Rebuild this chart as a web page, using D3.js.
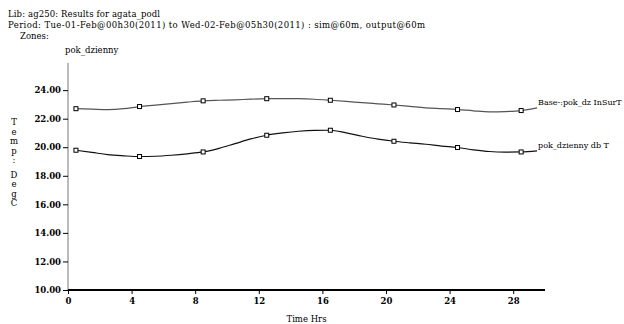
<!DOCTYPE html>
<html>
<head>
<meta charset="utf-8">
<script src="https://cdn.jsdelivr.net/npm/d3@7"></script>
<style>
  body { margin: 0; background: #fff; }
  svg { display: block; font-family: "DejaVu Serif", serif; }
  .axis text { font-family: "DejaVu Serif", serif; font-size: 8.5px; fill: #000; }
</style>
</head>
<body>
<svg id="chart" width="624" height="324"></svg>
<script>
// hourly output, half past each hour
var hours = d3.range(0.5, 30, 1);

var insurT = [22.70, 22.67, 22.64, 22.70, 22.85, 22.95, 23.06, 23.16, 23.25, 23.29,
              23.32, 23.37, 23.40, 23.41, 23.40, 23.36, 23.29, 23.21, 23.12, 23.04,
              22.96, 22.86, 22.76, 22.70, 22.64, 22.55, 22.48, 22.50, 22.57, 22.76];

var dbT = [19.79, 19.64, 19.48, 19.40, 19.35, 19.37, 19.44, 19.54, 19.67, 19.92,
           20.25, 20.58, 20.84, 21.00, 21.12, 21.18, 21.19, 21.00, 20.77, 20.57,
           20.42, 20.31, 20.21, 20.08, 19.98, 19.82, 19.70, 19.66, 19.67, 19.74];

var seriesNames = ["Base-:pok_dz InSurT", "pok_dzienny db T"];
var xTicks = [0, 4, 8, 12, 16, 20, 24, 28];
var yTicks = [10, 12, 14, 16, 18, 20, 22, 24];

var headerLines = [
  "Lib: ag250: Results for agata_podl",
  "Period: Tue-01-Feb@00h30(2011) to Wed-02-Feb@05h30(2011) : sim@60m, output@60m"
];

var svg = d3.select("#chart"),
    margin = {top: 63, right: 79, bottom: 34, left: 68},
    width = +svg.attr("width") - margin.left - margin.right,
    height = +svg.attr("height") - margin.top - margin.bottom,
    g = svg.append("g").attr("transform", "translate(" + margin.left + "," + margin.top + ")");

var x = d3.scaleLinear().domain([0, 30]).range([0, width]);
var y = d3.scaleLinear().domain([10, 25.9]).range([height, 0]);

/* header */
svg.append("text").attr("x", 8).attr("y", 17).attr("font-size", 8.5)
    .attr("textLength", 152).text(headerLines[0]);
svg.append("text").attr("x", 8).attr("y", 28).attr("font-size", 8.5)
    .attr("textLength", 417).text(headerLines[1]);
svg.append("text").attr("x", 20).attr("y", 39).attr("font-size", 8.5).text("Zones:");
svg.append("text").attr("x", 65).attr("y", 53).attr("font-size", 8.5).text("pok_dzienny");

/* y as */
g.append("g")
    .attr("class", "axis")
    .call(d3.axisLeft(y).tickValues(yTicks).tickSize(5).tickPadding(2)
      .tickFormat(d3.format(".2f")))
    .call(function(a) {
      a.select(".domain").attr("stroke", "#777").attr("d", "M0," + height + "V0");
      a.selectAll(".tick line").attr("stroke", "#000");
      a.selectAll("text").attr("font-weight", "bold");
    });

/* x as */
g.append("g")
    .attr("class", "axis")
    .attr("transform", "translate(0," + height + ")")
    .call(d3.axisBottom(x).tickValues(xTicks).tickSize(4).tickPadding(4))
    .call(function(a) {
      a.select(".domain").attr("stroke", "#000").attr("stroke-width", 2).attr("d", "M0,0H" + width);
      a.selectAll("text").attr("font-weight", "bold");
    });

g.append("text")
    .attr("x", x(15))
    .attr("y", height + 32)
    .attr("text-anchor", "middle")
    .attr("font-size", 8.5)
    .text("Time Hrs");

/* y label, letters stacked */
var yLabel = ["T", "e", "m", "p", ":", "D", "e", "g", "C"];
var yLabelPos = [122, 131.5, 141, 150.5, 160, 174.5, 184, 193.5, 203];
svg.append("g").selectAll("text")
    .data(yLabel)
    .enter().append("text")
      .attr("x", 14)
      .attr("y", function(d, i) { return yLabelPos[i] + 3; })
      .attr("text-anchor", "middle")
      .attr("font-size", 8.5)
      .text(function(d) { return d; });

/* lines */
var series = [
  {name: seriesNames[0], values: insurT, color: "#555"},
  {name: seriesNames[1], values: dbT, color: "#111"}
];

var line = d3.line()
    .x(function(d) { return x(d.h); })
    .y(function(d) { return y(d.v); })
    .curve(d3.curveMonotoneX);

series.forEach(function(s) {
  var pts = hours.map(function(h, i) { return {h: h, v: s.values[i]}; });

  g.append("path")
      .datum(pts)
      .attr("fill", "none")
      .attr("stroke", s.color)
      .attr("stroke-width", 1.2)
      .attr("d", line);

  g.selectAll(null)
      .data(pts.filter(function(d, i) { return i % 4 === 0; }))
      .enter().append("rect")
      .attr("x", function(d) { return x(d.h) - 2; })
      .attr("y", function(d) { return y(d.v) - 2; })
      .attr("width", 4)
      .attr("height", 4)
      .attr("fill", "#fff")
      .attr("stroke", "#000")
      .attr("stroke-width", 1);

  var last = pts[pts.length - 1];
  g.append("text")
      .attr("x", x(last.h) + 1)
      .attr("y", y(last.v) - 3)
      .attr("font-size", 8)
      .text(s.name);
});
</script>
</body>
</html>
